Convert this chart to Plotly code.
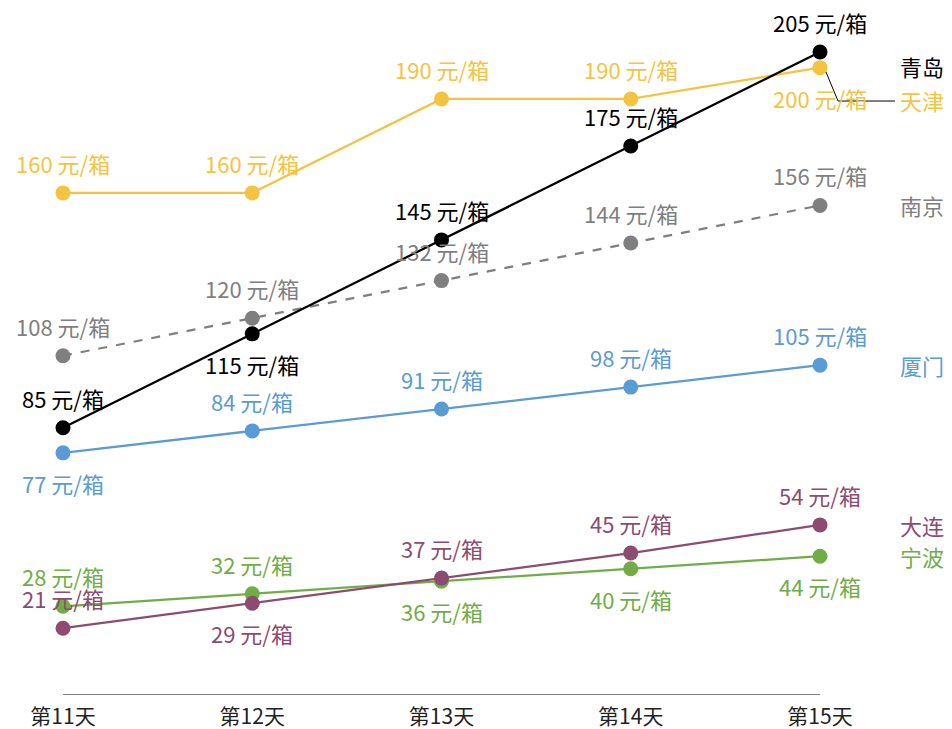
import plotly.graph_objects as go

days = ["第11天", "第12天", "第13天", "第14天", "第15天"]
cities = ["青岛", "天津", "南京", "厦门", "大连", "宁波"]
qingdao = [85, 115, 145, 175, 205]
tianjin = [160, 160, 190, 190, 200]
nanjing = [108, 120, 132, 144, 156]
xiamen = [77, 84, 91, 98, 105]
dalian = [21, 29, 37, 45, 54]
ningbo = [28, 32, 36, 40, 44]
unit = "元/箱"

colors = {"青岛": "#000000", "天津": "#F5C342", "南京": "#7F7F7F",
          "厦门": "#5B9BD5", "大连": "#8E4B70", "宁波": "#70AD47"}
series = {"青岛": qingdao, "天津": tianjin, "南京": nanjing,
          "厦门": xiamen, "大连": dalian, "宁波": ningbo}
# label above (+1) or below (-1) each point
label_side = {
    "青岛": [1, -1, 1, 1, 1],
    "天津": [1, 1, 1, 1, -1],
    "南京": [1, 1, 1, 1, 1],
    "厦门": [-1, 1, 1, 1, 1],
    "大连": [1, -1, 1, 1, 1],
    "宁波": [1, 1, -1, -1, -1],
}
end_shift = {"青岛": -14, "天津": -32, "南京": 0, "厦门": 0, "大连": 0, "宁波": 0}

FONT = "Noto Sans CJK SC"
xs = list(range(len(days)))

fig = go.Figure()
order = ["南京", "厦门", "宁波", "大连", "天津", "青岛"]
for c in order:
    fig.add_trace(go.Scatter(
        x=xs, y=series[c], mode="lines+markers",
        line=dict(color=colors[c], width=2.25, dash="dash" if c == "南京" else "solid"),
        marker=dict(color=colors[c], size=15),
        cliponaxis=False, showlegend=False, name=c))

annotations = []
for c in cities:
    for i, v in enumerate(series[c]):
        annotations.append(dict(
            x=xs[i], y=v, xref="x", yref="y", text=f"{v}\u00a0{unit}",
            showarrow=False, yshift=30 * label_side[c][i],
            font=dict(family=FONT, size=22, color=colors[c])))
    annotations.append(dict(
        x=xs[-1], y=series[c][-1], xref="x", yref="y", text=c,
        showarrow=False, xshift=102, yshift=end_shift[c],
        font=dict(family=FONT, size=22, color=colors[c])))

fig.update_layout(
    width=944, height=721,
    margin=dict(l=55, r=132, t=0, b=35),
    plot_bgcolor="white", paper_bgcolor="white",
    annotations=annotations,
    shapes=[dict(type="path", xref="paper", yref="paper",
                 path="M 1.0079 0.9067 L 1.0238 0.8644 L 1.099 0.8644",
                 line=dict(color="#000000", width=1))],
    xaxis=dict(range=[0, 4], tickvals=xs, ticktext=days, showgrid=False,
               zeroline=False, showline=True, linecolor="#7F7F7F", linewidth=1,
               ticks="", ticklabelstandoff=4,
               tickfont=dict(family=FONT, size=21, color="#222222")),
    yaxis=dict(range=[0, 219.04], visible=False, showgrid=False, zeroline=False),
)

fig.write_html("out.html")
